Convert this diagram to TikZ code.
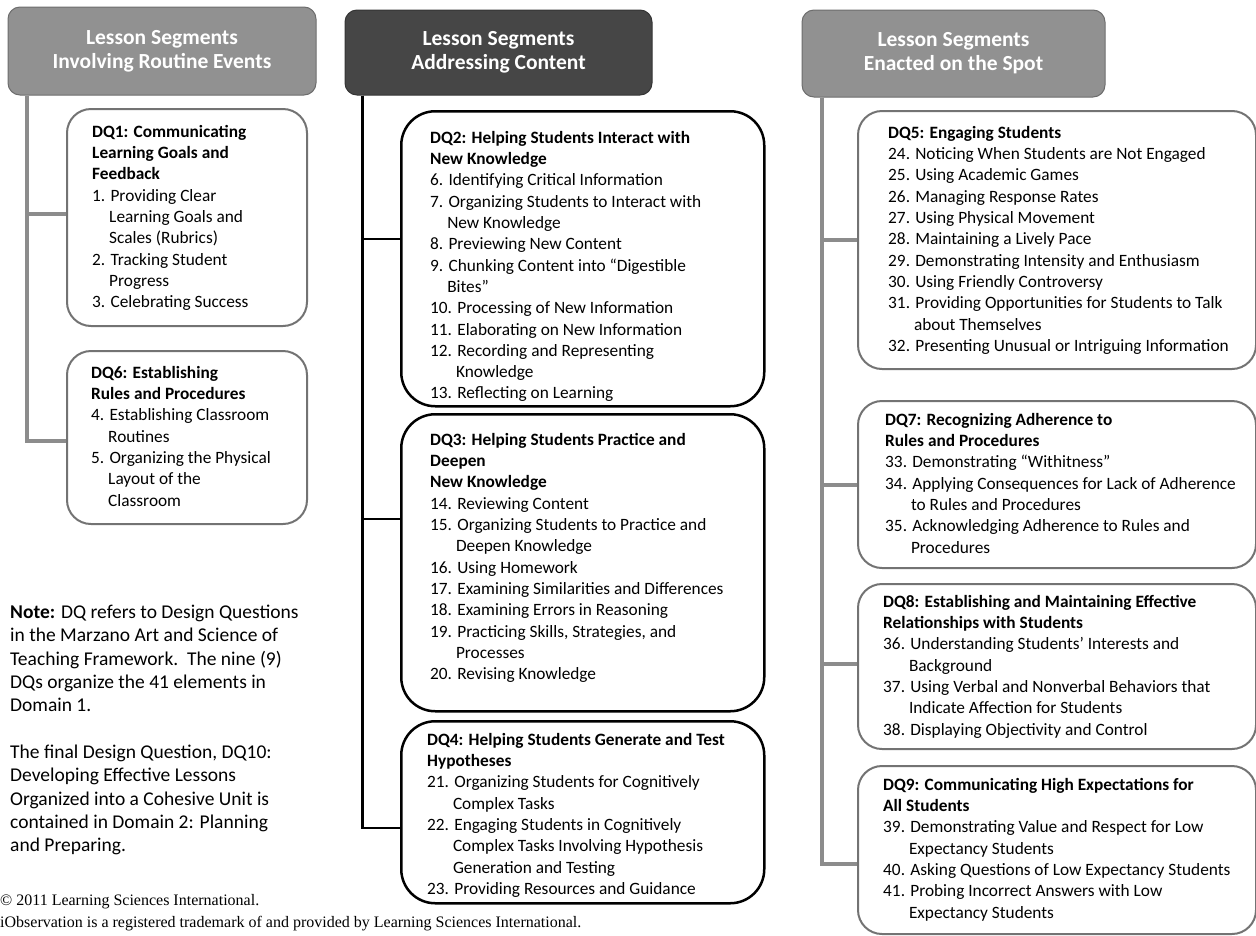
\documentclass[tikz,border=0pt]{standalone}
\usepackage{fontspec}
\setmainfont{Carlito}
\newfontfamily\serifnote{Liberation Serif}
\definecolor{hdrlight}{RGB}{145,145,145}
\definecolor{hdrdark}{RGB}{70,70,70}
\definecolor{rimgray}{RGB}{115,115,115}
\definecolor{trunkgray}{RGB}{140,140,140}
\newcommand{\ind}[1]{\hphantom{#1\ }}

\begin{document}
\begin{tikzpicture}[x=1pt,y=-1pt,
	hdr/.style={draw=#1!75!black, fill=#1, line width=1pt, rounded corners=12pt, text=white, align=center, inner sep=0pt, font=\bfseries\fontsize{21.5}{24}\selectfont},
	grayrim/.style={draw=rimgray, line width=2pt, rounded corners=24pt, anchor=north west, inner sep=0pt},
	blackrim/.style={draw=black, line width=2.5pt, rounded corners=34pt, anchor=north west, inner sep=0pt},
	items/.style={anchor=north west, align=left, inner sep=0pt, font=\fontsize{17.3}{21.3}\selectfont},
	graylink/.style={draw=trunkgray, line width=4pt},
	blacklink/.style={draw=black, line width=2.2pt}]
	\useasboundingbox (0,0) rectangle (1256,935);
	
	% headers
	\node [hdr=hdrlight, minimum width=308pt, minimum height=88pt] (routine) at (162,51) {Lesson Segments\\Involving Routine Events};
	\node [hdr=hdrdark, minimum width=307pt, minimum height=85pt] (content) at (498.5,52.5) {Lesson Segments\\Addressing Content};
	\node [hdr=hdrlight, minimum width=303pt, minimum height=87pt] (spot) at (953.5,53.5) {Lesson Segments\\Enacted on the Spot};
	
	% left column
	\node [grayrim, minimum width=240pt, minimum height=217pt] (dq1) at (66,108) {};
	\node [items] (dq1txt) at ([shift={(26,17)}]dq1.north west) {\textbf{DQ1: Communicating}\\\textbf{Learning Goals and}\\\textbf{Feedback}\\
		1. Providing Clear\\\ind{1.}Learning Goals and\\\ind{1.}Scales (Rubrics)\\
		2. Tracking Student\\\ind{2.}Progress\\
		3. Celebrating Success};
	\node [grayrim, minimum width=240pt, minimum height=173pt] (dq6) at (66,350) {};
	\node [items] (dq6txt) at ([shift={(25,16)}]dq6.north west) {\textbf{DQ6: Establishing}\\\textbf{Rules and Procedures}\\
		4. Establishing Classroom\\\ind{4.}Routines\\
		5. Organizing the Physical\\\ind{5.}Layout of the\\\ind{5.}Classroom};
	
	% middle column
	\node [blackrim, minimum width=363pt, minimum height=295pt] (dq2) at (400,110) {};
	\node [items] (dq2txt) at ([shift={(30,21)}]dq2.north west) {\textbf{DQ2: Helping Students Interact with}\\\textbf{New Knowledge}\\
		6. Identifying Critical Information\\
		7. Organizing Students to Interact with\\\ind{7.}New Knowledge\\
		8. Previewing New Content\\
		9. Chunking Content into “Digestible\\\ind{9.}Bites”\\
		10. Processing of New Information\\
		11. Elaborating on New Information\\
		12. Recording and Representing\\\ind{12.}Knowledge\\
		13. Reflecting on Learning};
	\node [blackrim, minimum width=363pt, minimum height=297pt] (dq3) at (400,413) {};
	\node [items] (dq3txt) at ([shift={(30,20)}]dq3.north west) {\textbf{DQ3: Helping Students Practice and}\\\textbf{Deepen}\\\textbf{New Knowledge}\\
		14. Reviewing Content\\
		15. Organizing Students to Practice and\\\ind{15.}Deepen Knowledge\\
		16. Using Homework\\
		17. Examining Similarities and Differences\\
		18. Examining Errors in Reasoning\\
		19. Practicing Skills, Strategies, and\\\ind{19.}Processes\\
		20. Revising Knowledge};
	\node [blackrim, minimum width=363pt, minimum height=182pt] (dq4) at (400,720) {};
	\node [items] (dq4txt) at ([shift={(27,13)}]dq4.north west) {\textbf{DQ4: Helping Students Generate and Test}\\\textbf{Hypotheses}\\
		21. Organizing Students for Cognitively\\\ind{21.}Complex Tasks\\
		22. Engaging Students in Cognitively\\\ind{22.}Complex Tasks Involving Hypothesis\\\ind{22.}Generation and Testing\\
		23. Providing Resources and Guidance};
	
	% right column
	\node [grayrim, minimum width=398pt, minimum height=258pt] (dq5) at (857,110) {};
	\node [items] (dq5txt) at ([shift={(31,16)}]dq5.north west) {\textbf{DQ5: Engaging Students}\\
		24. Noticing When Students are Not Engaged\\
		25. Using Academic Games\\
		26. Managing Response Rates\\
		27. Using Physical Movement\\
		28. Maintaining a Lively Pace\\
		29. Demonstrating Intensity and Enthusiasm\\
		30. Using Friendly Controversy\\
		31. Providing Opportunities for Students to Talk\\\ind{31.}about Themselves\\
		32. Presenting Unusual or Intriguing Information};
	\node [grayrim, minimum width=398pt, minimum height=167pt] (dq7) at (857,400) {};
	\node [items] (dq7txt) at ([shift={(28,13)}]dq7.north west) {\textbf{DQ7: Recognizing Adherence to}\\\textbf{Rules and Procedures}\\
		33. Demonstrating “Withitness”\\
		34. Applying Consequences for Lack of Adherence\\\ind{34.}to Rules and Procedures\\
		35. Acknowledging Adherence to Rules and\\\ind{35.}Procedures};
	\node [grayrim, minimum width=398pt, minimum height=165pt] (dq8) at (857,583) {};
	\node [items] (dq8txt) at ([shift={(26,12)}]dq8.north west) {\textbf{DQ8: Establishing and Maintaining Effective}\\\textbf{Relationships with Students}\\
		36. Understanding Students’ Interests and\\\ind{36.}Background\\
		37. Using Verbal and Nonverbal Behaviors that\\\ind{37.}Indicate Affection for Students\\
		38. Displaying Objectivity and Control};
	\node [grayrim, minimum width=398pt, minimum height=168pt] (dq9) at (857,765) {};
	\node [items] (dq9txt) at ([shift={(26,13)}]dq9.north west) {\textbf{DQ9: Communicating High Expectations for}\\\textbf{All Students}\\
		39. Demonstrating Value and Respect for Low\\\ind{39.}Expectancy Students\\
		40. Asking Questions of Low Expectancy Students\\
		41. Probing Incorrect Answers with Low\\\ind{41.}Expectancy Students};
	
	% links
	\draw [graylink] ([xshift=19pt]routine.south west) |- ([yshift=4pt]dq1.west);
	\draw [graylink] ([xshift=19pt]routine.south west) |- ([yshift=-3pt]dq6.west);
	\draw [blacklink] ([xshift=18pt]content.south west) |- ([yshift=20pt]dq2.west);
	\draw [blacklink] ([xshift=18pt]content.south west) |- ([yshift=44pt]dq3.west);
	\draw [blacklink] ([xshift=18pt]content.south west) |- ([yshift=-16pt]dq4.west);
	\draw [graylink] ([xshift=20pt]spot.south west) |- (dq5.west);
	\draw [graylink] ([xshift=20pt]spot.south west) |- (dq7.west);
	\draw [graylink] ([xshift=20pt]spot.south west) |- ([yshift=3pt]dq8.west);
	\draw [graylink] ([xshift=20pt]spot.south west) |- ([yshift=-14pt]dq9.west);
	
	% note
	\node [anchor=north west, align=left, inner sep=0pt, font=\fontsize{19.5}{23.3}\selectfont] (note) at (10,605) {\textbf{Note:} DQ refers to Design Questions\\in the Marzano Art and Science of\\Teaching Framework.\ \ The nine (9)\\DQs organize the 41 elements in\\Domain 1.\\[23.3pt]
		The final Design Question, DQ10:\\Developing Effective Lessons\\Organized into a Cohesive Unit is\\contained in Domain 2: Planning\\and Preparing.};
	\node [anchor=north west, align=left, inner sep=0pt, font=\serifnote\fontsize{16}{22}\selectfont] (copy) at (0,894) {© 2011 Learning Sciences International.\\iObservation is a registered trademark of and provided by Learning Sciences International.};
\end{tikzpicture}
\end{document}
